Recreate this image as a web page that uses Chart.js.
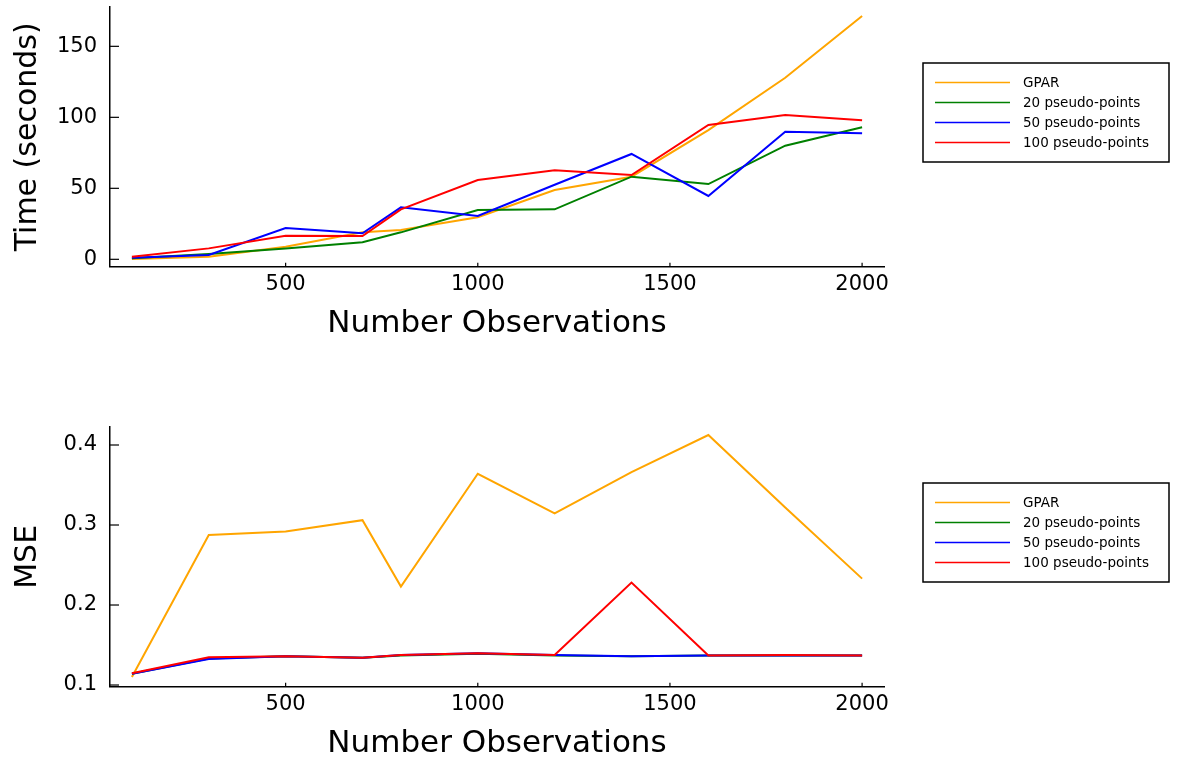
<!DOCTYPE html>
<html><head><meta charset="utf-8">
<script src="https://cdn.jsdelivr.net/npm/chart.js@4/dist/chart.umd.min.js"></script>
<style>
html,body{margin:0;padding:0;background:#fff;width:1179px;height:763px;overflow:hidden}
canvas{position:absolute;left:0}
</style></head>
<body>
<canvas id="c1" width="1179" height="343" style="top:0px"></canvas>
<canvas id="c2" width="1179" height="343" style="top:420px"></canvas>
<script>
const observations = [100, 300, 500, 700, 800, 1000, 1200, 1400, 1600, 1800, 2000];
const seriesNames = ['GPAR', '20 pseudo-points', '50 pseudo-points', '100 pseudo-points'];
const seriesColors = ['#FFA500', '#008000', '#0000FF', '#FF0000'];

const timeGPAR  = [0.2, 1.8, 8.9, 19.0, 20.6, 29.6, 48.8, 58.2, 91.0, 127.9, 171.3];
const time20    = [0.7, 3.7, 7.7, 12.0, 19.0, 34.7, 35.2, 58.2, 53.0, 80.0, 93.0];
const time50    = [1.1, 3.0, 22.0, 18.3, 36.6, 30.5, 52.5, 74.2, 44.6, 89.9, 88.7];
const time100   = [1.8, 7.7, 16.6, 16.4, 35.2, 55.8, 62.7, 59.4, 94.6, 101.6, 98.0];

const mseGPAR = [0.110, 0.2875, 0.292, 0.306, 0.223, 0.364, 0.3146, 0.366, 0.4125, 0.322, 0.233];
const mse20   = [0.114, 0.133, 0.136, 0.134, 0.137, 0.139, 0.137, 0.136, 0.137, 0.137, 0.137];
const mse50   = [0.114, 0.1325, 0.136, 0.134, 0.1375, 0.1396, 0.1375, 0.136, 0.137, 0.137, 0.137];
const mse100  = [0.1146, 0.1346, 0.136, 0.134, 0.1375, 0.1396, 0.1375, 0.228, 0.137, 0.1375, 0.137];

const xTicks = [500, 1000, 1500, 2000];
const timeTicks = [0, 50, 100, 150];
const mseTicks = [0.1, 0.2, 0.3, 0.4];

const FONT = 'DejaVu Sans';

const insideTicks = {
  id: 'insideTicks',
  afterDraw(chart) {
    const {ctx, chartArea: a, scales: {x, y}} = chart;
    ctx.save();
    ctx.strokeStyle = '#000';
    ctx.lineWidth = 1.2;
    x.ticks.forEach(t => {
      const px = x.getPixelForValue(t.value);
      ctx.beginPath(); ctx.moveTo(px, a.bottom); ctx.lineTo(px, a.bottom - 4); ctx.stroke();
    });
    y.ticks.forEach(t => {
      const py = y.getPixelForValue(t.value);
      ctx.beginPath(); ctx.moveTo(a.left, py); ctx.lineTo(a.left + 9, py); ctx.stroke();
    });
    ctx.restore();
  }
};

const boxLegend = {
  id: 'boxLegend',
  afterDraw(chart) {
    const ctx = chart.ctx;
    const L = {x: 923, y: 63, w: 246, h: 99};
    ctx.save();
    ctx.fillStyle = '#fff';
    ctx.fillRect(L.x, L.y, L.w, L.h);
    ctx.strokeStyle = '#000';
    ctx.lineWidth = 1.5;
    ctx.strokeRect(L.x, L.y, L.w, L.h);
    ctx.font = '13.5px "' + FONT + '"';
    ctx.textBaseline = 'middle';
    chart.data.datasets.forEach((d, i) => {
      const yy = L.y + 19.5 + 20 * i;
      ctx.strokeStyle = d.borderColor;
      ctx.lineWidth = 1.6;
      ctx.beginPath(); ctx.moveTo(935, yy); ctx.lineTo(1010, yy); ctx.stroke();
      ctx.fillStyle = '#000';
      ctx.fillText(d.label, 1023, yy + 1);
    });
    ctx.restore();
  }
};

function makeChart(id, yTitle, series, yMin, yMax, yTicks) {
  return new Chart(document.getElementById(id), {
    type: 'line',
    data: {
      datasets: seriesNames.map((name, i) => ({
        label: name,
        data: observations.map((x, j) => ({x: x, y: series[i][j]})),
        borderColor: seriesColors[i],
        backgroundColor: seriesColors[i],
        borderWidth: 2,
        pointRadius: 0,
        tension: 0,
        fill: false,
        order: 4 - i
      }))
    },
    options: {
      responsive: false,
      animation: false,
      events: [],
      layout: {padding: {top: 7, right: 295, left: 0, bottom: 0}},
      plugins: {legend: {display: false}, tooltip: {enabled: false}},
      scales: {
        x: {
          type: 'linear', min: 43, max: 2057,
          grid: {display: false, drawTicks: false},
          border: {display: true, color: '#000', width: 1.5},
          afterBuildTicks: s => { s.ticks = xTicks.map(v => ({value: v})); },
          afterFit: s => { s.height = 76.3; s.paddingLeft = 0; s.paddingRight = 0; },
          ticks: {font: {family: FONT, size: 21}, color: '#000', padding: 5, maxRotation: 0, autoSkip: false,
                  callback: v => String(v)},
          title: {display: true, text: 'Number Observations', font: {family: FONT, size: 31}, color: '#000',
                  padding: {top: 0, bottom: 0}}
        },
        y: {
          type: 'linear', min: yMin, max: yMax,
          grid: {display: false, drawTicks: false},
          border: {display: true, color: '#000', width: 1.5},
          afterBuildTicks: s => { s.ticks = yTicks.map(v => ({value: v})); },
          afterFit: s => { s.width = 110; s.paddingTop = 0; s.paddingBottom = 0; },
          ticks: {font: {family: FONT, size: 21}, color: '#000', padding: 13, autoSkip: false,
                  callback: v => String(v)},
          title: {display: true, text: yTitle, font: {family: FONT, size: 30}, color: '#000',
                  padding: {top: 10, bottom: 0}}
        }
      }
    },
    plugins: [insideTicks, boxLegend]
  });
}

makeChart('c1', 'Time (seconds)', [timeGPAR, time20, time50, time100], -5.2, 177.7, timeTicks);
makeChart('c2', 'MSE', [mseGPAR, mse20, mse50, mse100], 0.0979, 0.4225, mseTicks);
</script>
</body></html>
